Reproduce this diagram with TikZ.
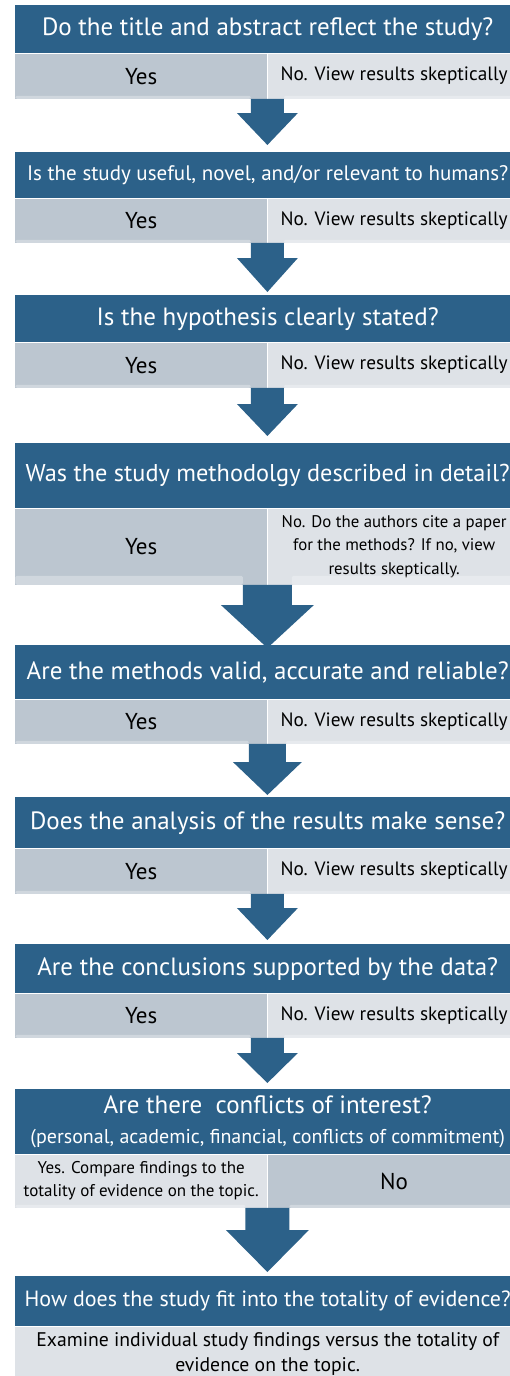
\documentclass[tikz,border=0pt]{standalone}
\usepackage{fontspec}
\setmainfont{PT Sans}
\usetikzlibrary{positioning,calc}
\definecolor{qblue}{RGB}{44,97,137}
\definecolor{yesgray}{RGB}{188,198,208}
\definecolor{nogray}{RGB}{222,226,231}
\tikzset{
  question/.style={fill=qblue, text=white, anchor=north west, minimum width=505pt, inner sep=0pt, align=center, font=\fontsize{25}{29}\selectfont},
  yescell/.style={fill=yesgray, anchor=north west, minimum width=252pt, inner sep=0pt, align=center, font=\fontsize{23}{27}\selectfont},
  nocell/.style={fill=nogray, anchor=north west, minimum width=253pt, inner sep=0pt, align=center, font=\fontsize{19.3}{23}\selectfont},
}
% block arrow: [gap]{from}{to}{shaft half}{head half}{head length}{strip height}
\newcommand{\flowarrow}[7][4]{%
  \fill[white, opacity=0.3, rounded corners=1.5pt] let \p1=(#2) in
    (\x1-252pt,\y1) rectangle (\x1-#4pt,\y1+#7pt)
    (\x1+#4pt,\y1) rectangle (\x1+253pt,\y1+#7pt);
  \fill[qblue] let \p1=(#2), \p2=(#3) in
    (\x1-#4pt,\y1) -- (\x1+#4pt,\y1) -- (\x1+#4pt,\y2+#1pt+#6pt) -- (\x1+#5pt,\y2+#1pt+#6pt)
    -- (\x1,\y2+#1pt) -- (\x1-#5pt,\y2+#1pt+#6pt) -- (\x1-#4pt,\y2+#1pt+#6pt) -- cycle;}

\begin{document}
\begin{tikzpicture}[x=1pt, y=-1pt]
  \useasboundingbox (0,0) rectangle (510,1376);
  \clip (0,0) rectangle (510,1376);
  % Questions and answers
  \node[question, minimum height=48pt] (q1) at (15,5) {Do the title and abstract reflect the study?};
  \node[yescell, minimum height=45pt] (y1) at (q1.south west) {Yes};
  \node[nocell, minimum height=45pt] (n1) at (y1.north east) {No. View results skeptically};

  \node[question, minimum height=46pt, font=\fontsize{21}{25}\selectfont] (q2) at (15,152) {Is the study useful, novel, and/or relevant to humans?};
  \node[yescell, minimum height=44pt] (y2) at (q2.south west) {Yes};
  \node[nocell, minimum height=44pt] (n2) at (y2.north east) {No. View results skeptically};

  \node[question, minimum height=47pt] (q3) at (15,295) {Is the hypothesis clearly stated?};
  \node[yescell, minimum height=45pt] (y3) at (q3.south west) {Yes};
  \node[nocell, minimum height=45pt] (n3) at (y3.north east) {No. View results skeptically};

  \node[question, minimum height=65pt, font=\fontsize{24.3}{28}\selectfont] (q4) at (15,443) {Was the study methodolgy described in detail?};
  \node[yescell, minimum height=76pt] (y4) at (q4.south west) {Yes};
  \node[nocell, minimum height=76pt, font=\fontsize{16.8}{23.5}\selectfont] (n4) at (y4.north east) {No. Do the authors cite a paper\\for the methods? If no, view\\results skeptically.};

  \node[question, minimum height=54pt] (q5) at (15,645) {Are the methods valid, accurate and reliable?};
  \node[yescell, minimum height=44pt] (y5) at (q5.south west) {Yes};
  \node[nocell, minimum height=44pt] (n5) at (y5.north east) {No. View results skeptically};

  \node[question, minimum height=51pt] (q6) at (15,797) {Does the analysis of the results make sense?};
  \node[yescell, minimum height=45pt] (y6) at (q6.south west) {Yes};
  \node[nocell, minimum height=45pt] (n6) at (y6.north east) {No. View results skeptically};

  \node[question, minimum height=49pt] (q7) at (15,944) {Are the conclusions supported by the data?};
  \node[yescell, minimum height=44pt] (y7) at (q7.south west) {Yes};
  \node[nocell, minimum height=44pt] (n7) at (y7.north east) {No. View results skeptically};

  \node[question, minimum height=65pt] (q8) at (15,1089) {Are there\ \ conflicts of interest?\\[1pt]{\fontsize{20}{24}\selectfont(personal, academic, financial, conflicts of commitment)}};
  \node[nocell, minimum width=252pt, minimum height=53pt, font=\fontsize{17}{23}\selectfont] (y8) at (q8.south west) {Yes. Compare findings to the\\totality of evidence on the topic.};
  \node[yescell, minimum width=253pt, minimum height=53pt] (n8) at (y8.north east) {No};

  \node[question, minimum height=50pt, font=\fontsize{22}{26}\selectfont] (q9) at (15,1276) {How does the study fit into the totality of evidence?};
  \node[nocell, minimum width=505pt, minimum height=54pt, font=\fontsize{19.7}{25}\selectfont] (e9) at (q9.south west) {Examine individual study findings versus the totality of\\evidence on the topic.};

  % Arrows
  \flowarrow[7]{y1.south east}{q2.north}{16.5}{30.5}{32}{3}
  \flowarrow[3]{y2.south east}{q3.north}{16.5}{30.5}{34}{3}
  \flowarrow[7]{y3.south east}{q4.north}{16.5}{30.5}{32}{3}
  \flowarrow[-3]{y4.south east}{q5.north}{24.5}{46.5}{43}{9}
  \flowarrow[2]{y5.south east}{q6.north}{18.5}{34.5}{33}{3}
  \flowarrow[4]{y6.south east}{q7.north}{16.5}{30.5}{32}{3}
  \flowarrow[6]{y7.south east}{q8.north}{16.5}{30.5}{30}{3}
  \flowarrow[4]{y8.south east}{q9.north}{22}{41.5}{42}{3}
\end{tikzpicture}
\end{document}
